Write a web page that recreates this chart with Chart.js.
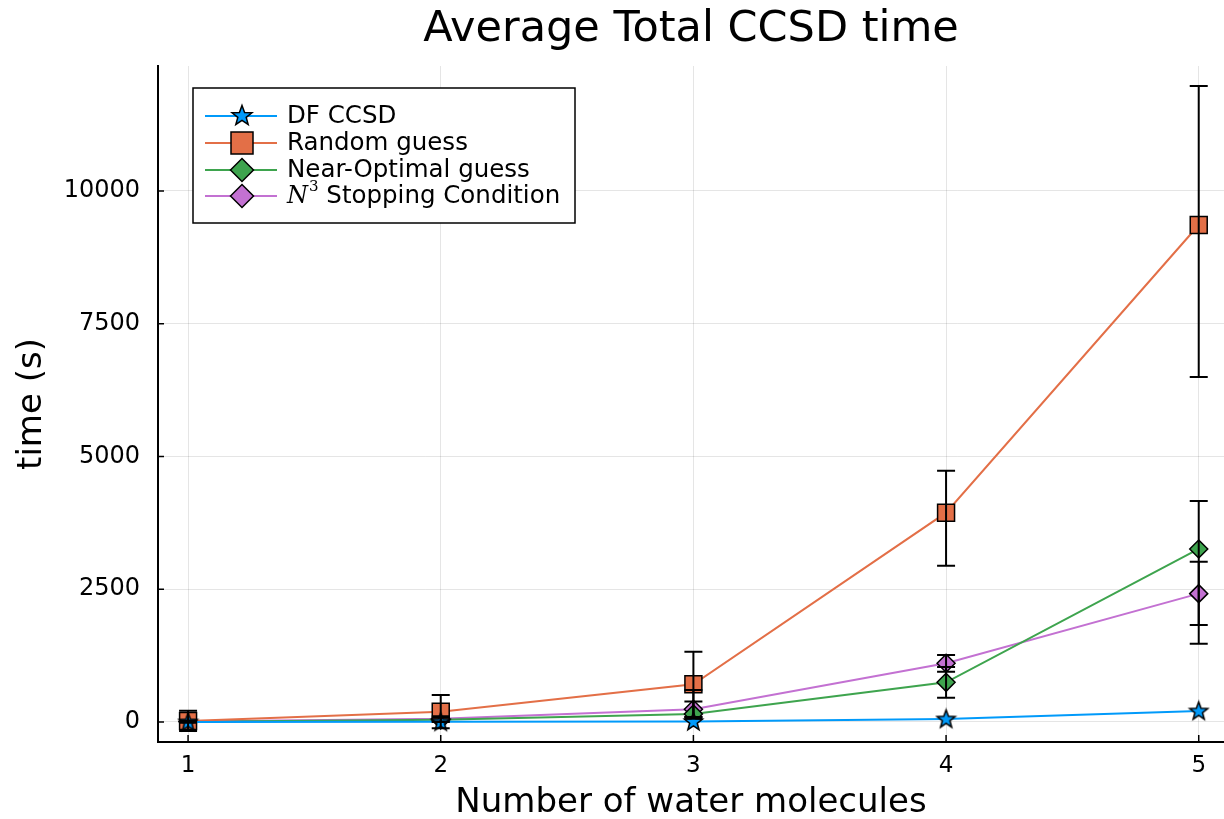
<!DOCTYPE html>
<html><head><meta charset="utf-8">
<script src="https://cdn.jsdelivr.net/npm/chart.js@4/dist/chart.umd.min.js"></script>
<style>html,body{margin:0;padding:0;background:#fff}</style>
</head><body>
<canvas id="c" width="1224" height="819"></canvas>
<script>
// ---- data ----
const xValues = [1, 2, 3, 4, 5];
const xTickValues = [1, 2, 3, 4, 5];
const yTickValues = [0, 2500, 5000, 7500, 10000];

const dfLabel = 'DF CCSD';
const dfMean = [1, 3, 10, 57, 207];
const dfLow  = [1, 3, 10, 57, 207];
const dfHigh = [1, 3, 10, 57, 207];

const randomLabel = 'Random guess';
const randomMean = [20, 194, 710, 3942, 9360];
const randomLow  = [-170, -120, 96, 2943, 6497];
const randomHigh = [210, 508, 1324, 4733, 11977];

const nearLabel = 'Near-Optimal guess';
const nearMean = [5, 40, 150, 747, 3258];
const nearLow  = [-10, 0, 60, 458, 1475];
const nearHigh = [20, 80, 600, 1037, 4162];

const n3Label = 'N^3 Stopping Condition';
const n3Mean = [10, 60, 239, 1105, 2417];
const n3Low  = [-10, 10, 94, 947, 1827];
const n3High = [30, 110, 384, 1263, 3019];

const colors = ['#009AFA', '#E36F47', '#3EA44E', '#C371D2'];
const FONT = 'DejaVu Sans';

// ---- marker drawing helpers ----
function starPath(ctx, cx, cy, R) {
  const r = R * 0.42;
  ctx.beginPath();
  for (let i = 0; i < 10; i++) {
    const a = -Math.PI / 2 + i * Math.PI / 5;
    const rr = i % 2 === 0 ? R : r;
    const px = cx + rr * Math.cos(a), py = cy + rr * Math.sin(a);
    if (i === 0) ctx.moveTo(px, py); else ctx.lineTo(px, py);
  }
  ctx.closePath();
}
function drawMarker(ctx, kind, cx, cy, s, color) {
  ctx.save();
  ctx.fillStyle = color; ctx.strokeStyle = '#000'; ctx.lineWidth = 1.5;
  if (kind === 'star') { starPath(ctx, cx, cy, s); }
  else if (kind === 'square') { ctx.beginPath(); ctx.rect(cx - s, cy - s, 2 * s, 2 * s); }
  else { ctx.beginPath(); ctx.moveTo(cx - s, cy); ctx.lineTo(cx, cy - s); ctx.lineTo(cx + s, cy); ctx.lineTo(cx, cy + s); ctx.closePath(); }
  ctx.fill(); ctx.stroke();
  ctx.restore();
}
function makeStarImage(R, color) {
  const c = document.createElement('canvas');
  const size = Math.ceil(2 * R + 4);
  c.width = size; c.height = size;
  drawMarker(c.getContext('2d'), 'star', size / 2, size / 2 + 0.5, R, color);
  return c;
}
const starImg = makeStarImage(9.5, colors[0]);

const series = [
  { label: dfLabel, mean: dfMean, low: dfLow, high: dfHigh, marker: 'star' },
  { label: randomLabel, mean: randomMean, low: randomLow, high: randomHigh, marker: 'square' },
  { label: nearLabel, mean: nearMean, low: nearLow, high: nearHigh, marker: 'diamond' },
  { label: n3Label, mean: n3Mean, low: n3Low, high: n3High, marker: 'diamond' }
];

const datasets = series.map((s, k) => ({
  label: s.label,
  data: xValues.map((x, i) => ({ x: x, y: s.mean[i] })),
  borderColor: colors[k],
  backgroundColor: colors[k],
  pointBackgroundColor: colors[k],
  pointBorderColor: '#000',
  pointBorderWidth: 1.5,
  borderWidth: 2,
  tension: 0,
  pointStyle: s.marker === 'star' ? starImg : (s.marker === 'square' ? 'rect' : 'rectRot'),
  pointRadius: s.marker === 'square' ? 12 : 9,
  pointHoverRadius: s.marker === 'square' ? 12 : 9
}));

// ---- plugins ----
const errorBars = {
  id: 'errorBars',
  afterDatasetsDraw(chart) {
    const { ctx, scales: { x, y } } = chart;
    ctx.save();
    ctx.strokeStyle = '#000'; ctx.lineWidth = 2;
    series.forEach(s => {
      xValues.forEach((xv, i) => {
        if (s.low[i] === s.high[i]) return;
        const px = x.getPixelForValue(xv);
        const p1 = y.getPixelForValue(s.low[i]);
        const p2 = y.getPixelForValue(s.high[i]);
        ctx.beginPath();
        ctx.moveTo(px, p1); ctx.lineTo(px, p2);
        ctx.moveTo(px - 9, p1); ctx.lineTo(px + 9, p1);
        ctx.moveTo(px - 9, p2); ctx.lineTo(px + 9, p2);
        ctx.stroke();
      });
    });
    ctx.restore();
  }
};

const innerTicks = {
  id: 'innerTicks',
  afterDraw(chart) {
    const { ctx, chartArea: a, scales: { x, y } } = chart;
    ctx.save();
    ctx.strokeStyle = '#000'; ctx.lineWidth = 1.5;
    ctx.beginPath();
    yTickValues.forEach(v => { const py = y.getPixelForValue(v); ctx.moveTo(a.left, py); ctx.lineTo(a.left + 6, py); });
    xTickValues.forEach(v => { const px = x.getPixelForValue(v); ctx.moveTo(px, a.bottom); ctx.lineTo(px, a.bottom - 7); });
    ctx.stroke();
    ctx.restore();
  }
};

const customLegend = {
  id: 'customLegend',
  afterDraw(chart) {
    const { ctx, chartArea: a } = chart;
    const bx = a.left + 35, by = a.top + 22, bw = 382, bh = 135;
    ctx.save();
    ctx.fillStyle = '#fff'; ctx.fillRect(bx, by, bw, bh);
    ctx.strokeStyle = '#000'; ctx.lineWidth = 1.5; ctx.strokeRect(bx, by, bw, bh);
    const rows = [28, 55, 82, 108];
    series.forEach((s, k) => {
      const ry = by + rows[k];
      ctx.strokeStyle = colors[k]; ctx.lineWidth = 2;
      ctx.beginPath(); ctx.moveTo(bx + 12, ry); ctx.lineTo(bx + 84, ry); ctx.stroke();
      const ms = s.marker === 'star' ? 10.5 : (s.marker === 'square' ? 11 : 11.5);
      drawMarker(ctx, s.marker, bx + 49, ry, ms, colors[k]);
      ctx.fillStyle = '#000'; ctx.textBaseline = 'middle';
      let tx = bx + 94;
      if (s.label.startsWith('N^3')) {
        ctx.font = 'italic 24px "DejaVu Serif"';
        ctx.fillText('N', tx, ry + 1);
        tx += ctx.measureText('N').width + 1;
        ctx.font = '15px "DejaVu Serif"';
        ctx.fillText('3', tx, ry - 9);
        tx += ctx.measureText('3').width;
        ctx.font = '24.5px "' + FONT + '"';
        ctx.fillText(' Stopping Condition', tx, ry + 1);
      } else {
        ctx.font = '24.5px "' + FONT + '"';
        ctx.fillText(s.label, tx, ry + 1);
      }
    });
    ctx.restore();
  }
};

Chart.defaults.font.family = FONT;
Chart.defaults.color = '#000';

new Chart(document.getElementById('c'), {
  type: 'line',
  data: { datasets: datasets },
  options: {
    responsive: false,
    animation: false,
    devicePixelRatio: 1,
    layout: { padding: 0, autoPadding: false },
    plugins: {
      legend: { display: false },
      tooltip: { enabled: false },
      title: {
        display: true,
        text: 'Average Total CCSD time',
        fullSize: false,
        font: { size: 43, weight: 'normal', family: FONT },
        color: '#000',
        padding: { top: 4, bottom: 10.4 }
      }
    },
    scales: {
      x: {
        type: 'linear',
        min: 0.881, max: 5.1,
        afterBuildTicks: s => { s.ticks = xTickValues.map(v => ({ value: v })); },
        afterFit: s => { s.height = 77; s.paddingRight = 0; s.paddingLeft = 0; },
        ticks: { font: { size: 23 }, padding: 10, callback: v => String(v), maxRotation: 0 },
        grid: { color: 'rgba(0,0,0,0.1)', lineWidth: 1, drawTicks: false },
        border: { display: true, color: '#000', width: 2 },
        title: { display: true, text: 'Number of water molecules', font: { size: 34 }, padding: { top: 0, bottom: -5 } }
      },
      y: {
        type: 'linear',
        min: -377, max: 12354,
        afterBuildTicks: s => { s.ticks = yTickValues.map(v => ({ value: v })); },
        afterFit: s => { s.width = 158; s.paddingTop = 0; s.paddingBottom = 0; },
        ticks: { font: { size: 24 }, padding: 18, callback: v => String(v) },
        grid: { color: 'rgba(0,0,0,0.1)', lineWidth: 1, drawTicks: false },
        border: { display: true, color: '#000', width: 2 },
        title: { display: true, text: 'time (s)', font: { size: 34 }, padding: { top: 12, bottom: 0 } }
      }
    }
  },
  plugins: [errorBars, innerTicks, customLegend]
});
</script>
</body></html>
